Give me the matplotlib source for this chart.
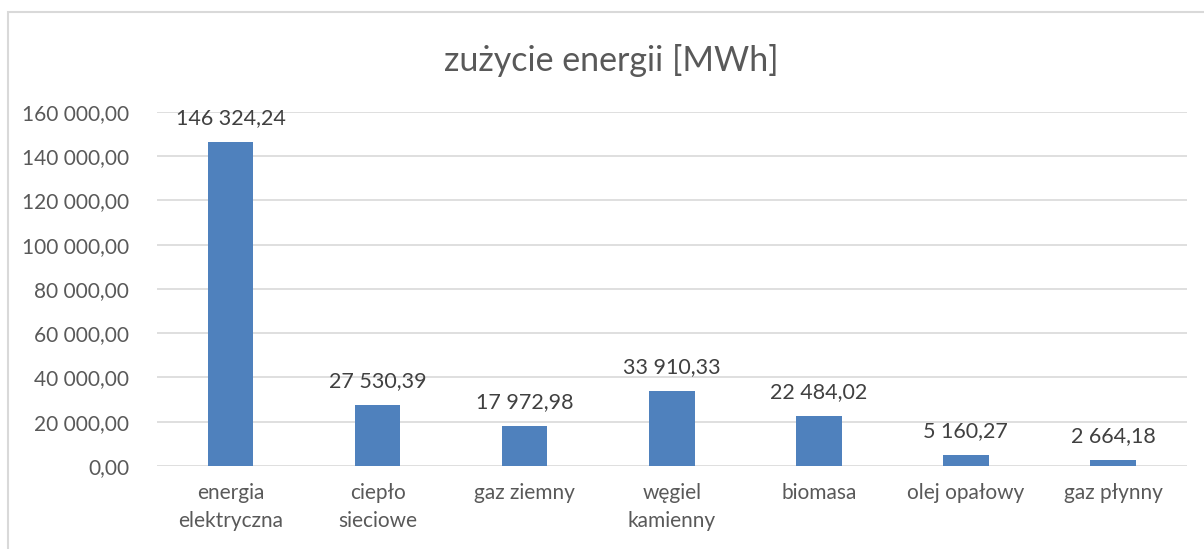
import matplotlib.pyplot as plt
from matplotlib.patches import Rectangle

categories = ['energia\nelektryczna', 'ciepło\nsieciowe', 'gaz ziemny', 'węgiel\nkamienny',
              'biomasa', 'olej opałowy', 'gaz płynny']
values = [146324.24, 27530.39, 17972.98, 33910.33, 22484.02, 5160.27, 2664.18]
yticks = [0, 20000, 40000, 60000, 80000, 100000, 120000, 140000, 160000]


def fmt(v):
    # polish style: space thousands, comma decimal
    return f"{v:,.2f}".replace(",", " ").replace(".", ",")


plt.rcParams['font.family'] = ['Lato', 'DejaVu Sans']

fig = plt.figure(figsize=(12.04, 5.49), dpi=100)
ax = fig.add_axes([0.1304, 0.1512, 0.9855 - 0.1304, 0.796 - 0.1512])

x = range(len(categories))
ax.bar(x, values, width=0.31, color='#4F81BD', zorder=3)

for i, v in enumerate(values):
    ax.annotate(fmt(v), (i, v), xytext=(0, 10), textcoords='offset points',
                ha='center', va='bottom', fontsize=15.5, color='#404040')

ax.set_ylim(0, 160000)
ax.set_xlim(-0.5, len(categories) - 0.5)
ax.set_yticks(yticks)
ax.set_yticklabels([fmt(t) for t in yticks], fontsize=15, color='#595959')
ax.set_xticks(list(x))
ax.set_xticklabels(categories, fontsize=15, color='#595959', linespacing=1.5)
ax.tick_params(axis='both', length=0)
ax.tick_params(axis='y', pad=20)
ax.tick_params(axis='x', pad=12)

ax.grid(axis='y', color='#D9D9D9', linewidth=1.2, zorder=0)
for s in ax.spines.values():
    s.set_visible(False)

fig.text(0.508, 0.89, 'zużycie energii [MWh]', ha='center', va='center',
         fontsize=24.5, color='#595959')

# chart area border
fig.patches.append(Rectangle((8 / 1204, -0.01), 1.05, 1 - 12 / 549 + 0.01,
                             transform=fig.transFigure, fill=False,
                             edgecolor='#D9D9D9', linewidth=1.5))

fig.savefig('out.png', dpi=100)
